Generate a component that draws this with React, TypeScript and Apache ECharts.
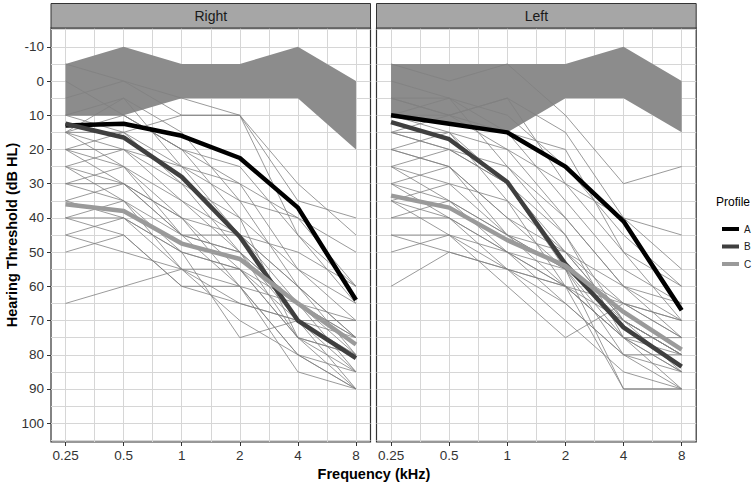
import React, { useEffect, useRef } from "react";
import * as echarts from "echarts";

// ---- data ----
const FREQS = [0.25, 0.5, 1, 2, 4, 8];
const FREQ_LABELS = ["0.25", "0.5", "1", "2", "4", "8"];
const PANEL_NAMES = ["Right", "Left"];
const PROFILE_NAMES = ["A", "B", "C"];

// normal-range band (upper / lower edges, dB HL)
const BAND_RIGHT_TOP = [-5, -10, -5, -5, -10, 0];
const BAND_RIGHT_BOTTOM = [10, 10, 5, 5, 5, 20];
const BAND_LEFT_TOP = [-5, -5, -5, -5, -10, 0];
const BAND_LEFT_BOTTOM = [10, 12.5, 15, 5, 5, 15];

// profile means
const RIGHT_A = [13, 12.5, 16, 22.5, 37, 64];
const RIGHT_B = [12.5, 16.5, 28, 45.5, 70, 81];
const RIGHT_C = [36, 38, 47.5, 52, 65, 77];
const LEFT_A = [10, 12.5, 15, 25, 41, 67];
const LEFT_B = [12, 17, 29.5, 53.5, 72, 83.5];
const LEFT_C = [33.5, 37, 46.5, 54, 67.5, 78.5];

// individual audiograms
const RIGHT_LINES = [
  [-5, 0, 5, 10, 35, 40],
  [0, 10, 20, 30, 40, 60],
  [5, 0, 10, 10, 45, 65],
  [10, 5, 15, 35, 60, 75],
  [15, 15, 25, 45, 65, 80],
  [15, 20, 30, 40, 55, 70],
  [15, 25, 35, 50, 70, 90],
  [15, 10, 20, 40, 75, 85],
  [20, 25, 40, 55, 75, 80],
  [20, 15, 30, 50, 65, 75],
  [20, 30, 45, 60, 80, 90],
  [25, 20, 35, 45, 60, 75],
  [25, 35, 50, 55, 70, 85],
  [30, 30, 40, 60, 65, 75],
  [30, 25, 45, 50, 75, 90],
  [35, 40, 50, 55, 65, 70],
  [40, 35, 45, 45, 60, 80],
  [40, 40, 55, 60, 85, 90],
  [45, 50, 55, 55, 75, 80],
  [45, 40, 50, 75, 70, 75],
  [50, 45, 60, 60, 80, 85],
  [65, 60, 55, 65, 70, 70],
  [10, 15, 10, 10, 30, 45],
  [15, 5, 25, 35, 40, 50],
  [20, 20, 25, 30, 55, 65],
  [35, 30, 40, 45, 50, 60],
  [25, 30, 45, 50, 65, 85],
  [30, 35, 55, 70, 80, 90],
  [10, 10, 20, 25, 45, 60],
  [40, 45, 60, 65, 70, 80],
];
const LEFT_LINES = [
  [-5, 0, -5, 10, 30, 25],
  [0, 5, 10, 25, 45, 60],
  [5, 10, 5, 30, 50, 70],
  [5, 5, 15, 35, 55, 65],
  [10, 15, 20, 40, 60, 75],
  [10, 5, 25, 45, 70, 80],
  [15, 15, 30, 50, 70, 85],
  [15, 20, 30, 55, 75, 90],
  [20, 25, 40, 55, 80, 90],
  [20, 15, 35, 60, 65, 75],
  [20, 25, 45, 60, 75, 85],
  [25, 20, 30, 45, 75, 80],
  [25, 35, 45, 55, 90, 90],
  [30, 25, 40, 50, 65, 70],
  [30, 35, 50, 65, 80, 85],
  [35, 30, 45, 55, 70, 80],
  [35, 40, 50, 60, 75, 75],
  [40, 40, 50, 60, 90, 90],
  [40, 35, 45, 50, 70, 80],
  [45, 45, 55, 60, 70, 80],
  [50, 45, 60, 75, 65, 70],
  [60, 50, 55, 60, 75, 85],
  [15, 10, 5, 15, 40, 45],
  [10, 10, 15, 20, 50, 60],
  [25, 30, 35, 50, 60, 65],
  [15, 20, 25, 40, 60, 70],
  [30, 40, 55, 65, 80, 80],
  [45, 50, 55, 70, 85, 90],
  [5, 10, 20, 30, 40, 55],
  [35, 45, 50, 55, 65, 75],
];

// ---- layout / style ----
const X_MIN = -2.25;
const X_MAX = 3.25;
const Y_MIN = -15.5;
const Y_MAX = 105.5;
const GRIDS = [
  { left: 51, top: 28, width: 319.5, height: 414 },
  { left: 376.5, top: 28, width: 319.7, height: 414 },
];
const PROFILE_COLORS = ["#000000", "#3f3f3f", "#9a9a9a"];
const GRID_COLOR = "#d6d6d6";
const FONT = "'Liberation Sans', Arial, sans-serif";

const xCats = Array.from({ length: 23 }, (_, i) => String(X_MIN + 0.25 * i));
const yCats = Array.from({ length: 243 }, (_, i) => String(Y_MIN + 0.5 * i));

const toPts = (vals: number[]) => FREQS.map((f, i) => [Math.log2(f), vals[i]]);

export default function App() {
  const ref = useRef<HTMLDivElement>(null);
  useEffect(() => {
    if (!ref.current) return;
    const chart = echarts.init(ref.current, undefined, { renderer: "svg" });

    const bands = [
      [BAND_RIGHT_TOP, BAND_RIGHT_BOTTOM],
      [BAND_LEFT_TOP, BAND_LEFT_BOTTOM],
    ];
    const profiles = [
      [RIGHT_A, RIGHT_B, RIGHT_C],
      [LEFT_A, LEFT_B, LEFT_C],
    ];
    const indiv = [RIGHT_LINES, LEFT_LINES];

    const series: any[] = [];
    [0, 1].forEach((p) => {
      const [top, bottom] = bands[p];
      series.push({
        type: "custom",
        xAxisIndex: p,
        yAxisIndex: p,
        silent: true,
        z: 1,
        data: [[0, 0]],
        renderItem: (params: any, api: any) => {
          const up = FREQS.map((f, i) => api.coord([Math.log2(f), top[i]]));
          const lo = FREQS.map((f, i) => api.coord([Math.log2(f), bottom[i]])).reverse();
          return {
            type: "polygon",
            shape: { points: up.concat(lo) },
            style: { fill: "#8c8c8c" },
          };
        },
      });
      indiv[p].forEach((vals, k) => {
        series.push({
          type: "line",
          name: "ind" + p + "_" + k,
          xAxisIndex: p,
          yAxisIndex: p,
          data: toPts(vals),
          symbol: "none",
          silent: true,
          z: 2,
          lineStyle: { color: "#808080", width: 0.8 },
        });
      });
      profiles[p].forEach((vals, k) => {
        series.push({
          type: "line",
          name: PROFILE_NAMES[k],
          xAxisIndex: p,
          yAxisIndex: p,
          data: toPts(vals),
          symbol: "none",
          silent: true,
          z: 3,
          itemStyle: { color: PROFILE_COLORS[k] },
          lineStyle: { color: PROFILE_COLORS[k], width: 4.5, join: "round" },
        });
      });
    });

    const valueX = (g: number) => ({
      type: "value",
      gridIndex: g,
      min: X_MIN,
      max: X_MAX,
      show: false,
    });
    const valueY = (g: number) => ({
      type: "value",
      gridIndex: g,
      min: Y_MIN,
      max: Y_MAX,
      inverse: true,
      show: false,
    });
    const catX = (g: number) => ({
      type: "category",
      gridIndex: g,
      data: xCats,
      boundaryGap: false,
      position: "bottom",
      axisLine: { show: false, onZero: false },
      axisTick: {
        show: true,
        length: 4,
        interval: (i: number) => i % 4 === 1,
        lineStyle: { color: "#333333", width: 1 },
      },
      axisLabel: {
        show: true,
        interval: (i: number) => i % 4 === 1,
        formatter: (_v: string, i: number) => (i % 4 === 1 ? FREQ_LABELS[(i - 1) / 4] : ""),
        margin: 6,
        fontSize: 13.5,
        color: "#333333",
        fontFamily: FONT,
      },
      splitLine: {
        show: true,
        interval: (i: number) => i % 2 === 1,
        lineStyle: { color: GRID_COLOR, width: 1 },
      },
    });
    const catY = (g: number) => ({
      type: "category",
      gridIndex: g,
      data: yCats,
      inverse: true,
      boundaryGap: false,
      position: "left",
      axisLine: { show: false, onZero: false },
      axisTick: {
        show: g === 0,
        length: 4,
        interval: (i: number) => (i - 11) % 20 === 0 && i >= 11 && i <= 231,
        lineStyle: { color: "#333333", width: 1 },
      },
      axisLabel: {
        show: g === 0,
        interval: (i: number) => (i - 11) % 20 === 0 && i >= 11 && i <= 231,
        margin: 7,
        fontSize: 13.5,
        color: "#333333",
        fontFamily: FONT,
      },
      splitLine: {
        show: true,
        interval: (i: number) => (i - 1) % 10 === 0,
        lineStyle: { color: GRID_COLOR, width: 1 },
      },
    });

    const graphic: any[] = [];
    [0, 1].forEach((p) => {
      const g = GRIDS[p];
      graphic.push({
        type: "rect",
        shape: { x: g.left, y: 3.5, width: g.width, height: g.top - 3.5 },
        style: { fill: "#a6a6a6", stroke: "#333333", lineWidth: 1 },
        z: 10,
      });
      graphic.push({
        type: "text",
        x: g.left + g.width / 2,
        y: (g.top + 3.5) / 2 + 0.5,
        style: {
          text: PANEL_NAMES[p],
          fill: "#1a1a1a",
          font: `14px ${FONT}`,
          textAlign: "center",
          textVerticalAlign: "middle",
        },
        z: 11,
      });
    });
    graphic.push({
      type: "text",
      x: 12,
      y: 235,
      rotation: Math.PI / 2,
      style: {
        text: "Hearing Threshold (dB HL)",
        fill: "#000000",
        font: `bold 14.5px ${FONT}`,
        textAlign: "center",
        textVerticalAlign: "middle",
      },
    });
    graphic.push({
      type: "text",
      x: 374,
      y: 474,
      style: {
        text: "Frequency (kHz)",
        fill: "#000000",
        font: `bold 14.5px ${FONT}`,
        textAlign: "center",
        textVerticalAlign: "middle",
      },
    });
    graphic.push({
      type: "text",
      x: 716,
      y: 202,
      style: {
        text: "Profile",
        fill: "#000000",
        font: `12px ${FONT}`,
        textAlign: "left",
        textVerticalAlign: "middle",
      },
    });

    chart.setOption({
      animation: false,
      backgroundColor: "#ffffff",
      grid: GRIDS.map((g) => ({
        ...g,
        show: true,
        backgroundColor: "#ffffff",
        borderColor: "#333333",
        borderWidth: 1.2,
      })),
      xAxis: [valueX(0), valueX(1), catX(0), catX(1)],
      yAxis: [valueY(0), valueY(1), catY(0), catY(1)],
      legend: {
        data: PROFILE_NAMES,
        orient: "vertical",
        left: 717,
        top: 219,
        icon: "rect",
        itemWidth: 17,
        itemHeight: 4,
        itemGap: 7.5,
        selectedMode: false,
        textStyle: { fontSize: 10, color: "#1a1a1a", fontFamily: FONT },
      },
      graphic,
      series,
    });
    return () => chart.dispose();
  }, []);
  return (
    <div
      ref={ref}
      style={{ position: "fixed", left: 0, top: 0, width: 755, height: 486 }}
    />
  );
}
